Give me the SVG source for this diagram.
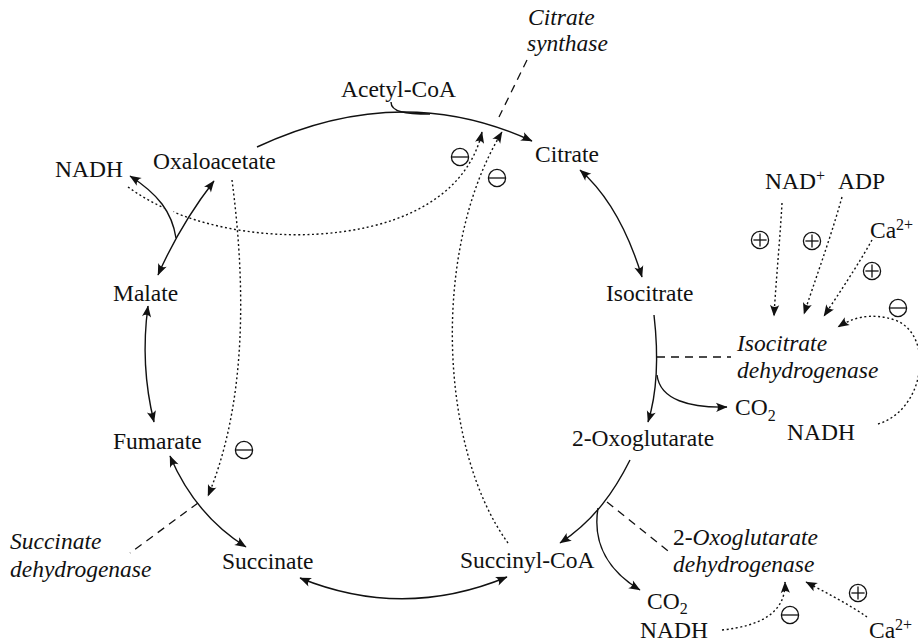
<svg xmlns="http://www.w3.org/2000/svg" width="918" height="642" viewBox="0 0 918 642">
  <style>
    text { font-family: "Liberation Serif", "Times New Roman", serif; font-size: 23.5px; fill: #111; }
    .it { font-style: italic; }
    .sup { font-size: 16px; }
    .solid { fill: none; stroke: #111; stroke-width: 1.4; }
    .dot { fill: none; stroke: #111; stroke-width: 1.4; stroke-dasharray: 2 2.6; }
    .dash { fill: none; stroke: #111; stroke-width: 1.3; stroke-dasharray: 8 6; }
    .halo { fill: none; stroke: #fff; stroke-width: 7; }
    .sign { fill: none; stroke: #111; stroke-width: 1.3; }
  </style>
  <defs>
    <marker id="ah" viewBox="-12 -6 13 12" refX="0" refY="0" markerWidth="13" markerHeight="12" orient="auto-start-reverse" markerUnits="userSpaceOnUse">
      <path d="M0.5,0 L-11,-4.6 Q-7,0 -11,4.6 Z" fill="#111"/>
    </marker>
    <!-- circled regulation signs -->
    <g id="minus" class="sign">
      <circle r="8.6"/>
      <line x1="-8.6" y1="0" x2="8.6" y2="0"/>
    </g>
    <g id="plus" class="sign">
      <circle r="8.6"/>
      <line x1="-6.6" y1="0" x2="6.6" y2="0"/>
      <line x1="0" y1="-6.6" x2="0" y2="6.6"/>
    </g>
  </defs>
  <rect width="918" height="642" fill="#fff"/>

  <!-- connectors -->
  <g id="connectors">
    <!-- inhibition routes (dotted) -->
    <path class="dot" d="M128,187 C190,232 280,240 340,232 C420,222 470,185 482,132" marker-end="url(#ah)"/>
    <path class="dot" d="M508,543 C440,450 430,250 502,132" marker-end="url(#ah)"/>
    <path class="dot" d="M232,180 C245,280 248,400 208,496" marker-end="url(#ah)"/>
    <path class="dot" d="M782,203 C780,240 776,280 774,316" marker-end="url(#ah)"/>
    <path class="dot" d="M842,197 C830,240 815,280 804,314" marker-end="url(#ah)"/>
    <path class="dot" d="M872,240 C858,265 840,292 824,316" marker-end="url(#ah)"/>
    <path class="dot" d="M878,424 C925,410 935,335 895,320 C870,312 852,318 838,327" marker-end="url(#ah)"/>
    <path class="dot" d="M722,630 C760,626 786,613 785,582" marker-end="url(#ah)"/>
    <path class="dot" d="M867,617 C850,605 825,592 806,582" marker-end="url(#ah)"/>

    <!-- enzyme pointers (dashed) -->
    <path class="dash" d="M527,60 L499,117"/>
    <path class="dash" d="M657,357 L731,357"/>
    <path class="dash" d="M607,502 L668,551"/>
    <path class="dash" d="M198,503 L130,553"/>

    <!-- reaction steps (solid) -->
    <path class="solid" d="M257,147 Q400,80 532,141" marker-end="url(#ah)"/>
    <path class="solid" d="M391,102 C391,112 405,114 430,114"/>
    <path class="solid" d="M580,170 Q620,205 642,277" marker-start="url(#ah)" marker-end="url(#ah)"/>
    <path class="solid" d="M654,315 C658,350 658,390 648,422" marker-end="url(#ah)"/>
    <path class="solid" d="M657,375 C660,400 690,408 727,407" marker-end="url(#ah)"/>
    <path class="solid" d="M630,460 C615,490 595,520 560,543" marker-end="url(#ah)"/>
    <path class="solid" d="M598,508 C592,545 610,572 640,590" marker-end="url(#ah)"/>
    <path class="solid" d="M300,578 Q403,620 507,577" marker-start="url(#ah)" marker-end="url(#ah)"/>
    <path class="solid" d="M170,456 Q195,515 246,547" marker-start="url(#ah)" marker-end="url(#ah)"/>
    <path class="solid" d="M148,306 Q140,365 154,422" marker-start="url(#ah)" marker-end="url(#ah)"/>
    <path class="solid" d="M158,275 Q180,225 214,181" marker-start="url(#ah)" marker-end="url(#ah)"/>
    <path class="halo" d="M175,228 C173,214 165,203 158,196"/>
    <path class="solid" d="M176,238 C172,212 158,194 130,176" marker-end="url(#ah)"/>
  </g>

  <!-- metabolites -->
  <g id="acetyl-coa"><text x="341" y="97">Acetyl-CoA</text></g>
  <g id="oxaloacetate"><text x="153" y="169">Oxaloacetate</text></g>
  <g id="nadh-malate"><text x="55" y="177">NADH</text></g>
  <g id="citrate"><text x="535" y="162">Citrate</text></g>
  <g id="isocitrate"><text x="606" y="301">Isocitrate</text></g>
  <g id="oxoglutarate"><text x="572" y="446">2-Oxoglutarate</text></g>
  <g id="succinyl-coa"><text x="460" y="568">Succinyl-CoA</text></g>
  <g id="succinate"><text x="222" y="569">Succinate</text></g>
  <g id="fumarate"><text x="113" y="449">Fumarate</text></g>
  <g id="malate"><text x="113" y="301">Malate</text></g>

  <!-- side products -->
  <g id="co2-idh"><text x="735" y="415">CO<tspan class="sup" dy="6">2</tspan></text></g>
  <g id="nadh-idh"><text x="787" y="440">NADH</text></g>
  <g id="co2-ogdh"><text x="647" y="609">CO<tspan class="sup" dy="5">2</tspan></text></g>
  <g id="nadh-ogdh"><text x="640" y="638">NADH</text></g>

  <!-- effectors -->
  <g id="nad"><text x="765" y="189">NAD<tspan class="sup" dy="-8">+</tspan></text></g>
  <g id="adp"><text x="838" y="189">ADP</text></g>
  <g id="ca-idh"><text x="870" y="238">Ca<tspan class="sup" dy="-8">2+</tspan></text></g>
  <g id="ca-ogdh"><text x="869" y="638">Ca<tspan class="sup" dy="-8">2+</tspan></text></g>

  <!-- enzymes -->
  <g id="citrate-synthase">
    <text class="it" x="528" y="25">Citrate</text>
    <text class="it" x="527" y="51">synthase</text>
  </g>
  <g id="isocitrate-dehydrogenase">
    <text class="it" x="737" y="351">Isocitrate</text>
    <text class="it" x="737" y="378">dehydrogenase</text>
  </g>
  <g id="oxoglutarate-dehydrogenase">
    <text x="673" y="545">2-<tspan class="it">Oxoglutarate</tspan></text>
    <text class="it" x="673" y="572">dehydrogenase</text>
  </g>
  <g id="succinate-dehydrogenase">
    <text class="it" x="10" y="549">Succinate</text>
    <text class="it" x="10" y="577">dehydrogenase</text>
  </g>

  <!-- regulation signs -->
  <g id="signs">
    <use href="#minus" x="460" y="157"/>
    <use href="#minus" x="497" y="178"/>
    <use href="#minus" x="244" y="450"/>
    <use href="#plus" x="760" y="240"/>
    <use href="#plus" x="812" y="241"/>
    <use href="#plus" x="872" y="271"/>
    <use href="#minus" x="898" y="308"/>
    <use href="#minus" x="790" y="615"/>
    <use href="#plus" x="858" y="593"/>
  </g>
</svg>
